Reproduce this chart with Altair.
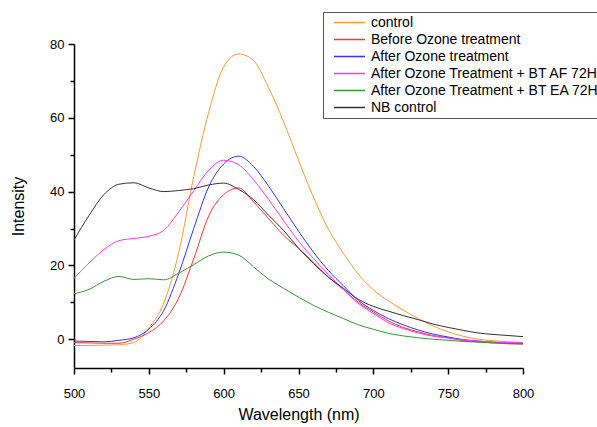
import altair as alt
import pandas as pd

wavelength = list(range(500, 801, 10))

control = [-1.7, -1.7, -1.6, -1.5, -0.9, 3.0, 9.8, 23.5, 44.0, 61.5, 73.8, 77.3, 75.5, 68.2, 59.0,
           48.5, 38.5, 29.8, 23.3, 17.6, 13.4, 10.4, 7.9, 5.6, 3.6, 2.0, 0.8, 0.0, -0.4, -0.7, -0.9]
before_ozone = [-0.9, -1.0, -1.1, -1.1, 0.0, 1.8, 5.0, 11.2, 21.8, 33.4, 39.2, 41.0, 37.2, 32.7, 28.2,
                24.6, 20.9, 16.8, 13.5, 10.0, 7.4, 5.0, 3.2, 2.0, 1.0, 0.4, -0.4, -0.7, -1.0, -1.2, -1.3]
after_ozone = [-0.5, -0.6, -0.7, -0.3, 0.4, 2.7, 7.8, 17.8, 30.0, 41.3, 47.5, 49.6, 46.8, 41.5, 35.4,
               29.3, 23.6, 18.6, 14.5, 10.5, 7.8, 5.6, 3.9, 2.5, 1.4, 0.6, -0.1, -0.5, -0.8, -1.0, -1.1]
after_bt_af = [16.5, 20.6, 24.3, 26.7, 27.3, 27.9, 29.5, 34.5, 40.2, 45.8, 48.5, 47.3, 43.2, 37.9, 32.2,
               26.6, 21.9, 17.5, 13.5, 9.7, 7.0, 4.5, 2.9, 1.7, 0.8, 0.3, -0.2, -0.5, -0.8, -0.9, -1.0]
after_bt_ea = [12.3, 13.5, 15.7, 17.0, 16.2, 16.4, 16.1, 17.9, 20.2, 22.6, 23.6, 22.8, 19.6, 16.3, 13.8,
               11.4, 9.2, 7.3, 5.6, 3.9, 2.7, 1.6, 0.9, 0.4, 0.0, -0.3, -0.6, -0.8, -1.0, -1.2, -1.3]
nb_control = [26.9, 33.5, 39.2, 42.0, 42.4, 41.0, 40.0, 40.3, 40.8, 41.8, 42.3, 40.6, 37.8, 33.6, 29.5,
              24.7, 20.5, 16.8, 13.8, 10.8, 8.9, 7.6, 6.4, 5.3, 4.1, 3.2, 2.4, 1.7, 1.3, 1.0, 0.7]

series_names = [
    "control",
    "Before Ozone treatment",
    "After Ozone treatment",
    "After Ozone Treatment + BT AF 72H",
    "After Ozone Treatment + BT EA 72H",
    "NB control",
]
series_colors = ["#FF9933", "#FF3333", "#3333FF", "#FF33FF", "#339933", "#333333"]
series_values = [control, before_ozone, after_ozone, after_bt_af, after_bt_ea, nb_control]

x_ticks = list(range(500, 801, 25))
y_ticks = list(range(0, 81, 10))

rows = []
for name, vals in zip(series_names, series_values):
    for w, v in zip(wavelength, vals):
        rows.append({"wl": w, "val": v, "series": name})
df = pd.DataFrame(rows)

FONT = "Liberation Sans"

chart = alt.Chart(df).mark_line(strokeWidth=1, interpolate="monotone", clip=True).encode(
    x=alt.X(
        "wl:Q",
        scale=alt.Scale(domain=[500, 800], nice=False, zero=False),
        axis=alt.Axis(
            title="Wavelength (nm)",
            values=x_ticks,
            labelExpr="datum.value % 50 === 0 ? datum.label : ''",
            grid=False,
            labelFlush=False,
            labelFont=FONT, labelFontSize=13, labelColor="black", labelPadding=13,
            titleFont=FONT, titleFontSize=16, titleFontWeight="normal", titleColor="black", titlePadding=6,
            domainColor="black", domainWidth=1.5,
            tickColor="black", tickWidth=1.5,
            tickSize={"condition": {"test": "datum.value % 50 === 0", "value": 6}, "value": 4},
        ),
    ),
    y=alt.Y(
        "val:Q",
        scale=alt.Scale(domain=[-7.8, 80], nice=False, zero=False),
        axis=alt.Axis(
            title="Intensity",
            values=y_ticks,
            labelExpr="datum.value % 20 === 0 ? datum.label : ''",
            grid=False,
            labelFlush=False,
            labelFont=FONT, labelFontSize=13, labelColor="black", labelPadding=4,
            titleFont=FONT, titleFontSize=16, titleFontWeight="normal", titleColor="black", titlePadding=23,
            domainColor="black", domainWidth=1.5,
            tickColor="black", tickWidth=1.5,
            tickSize={"condition": {"test": "datum.value % 20 === 0", "value": 6}, "value": 4},
        ),
    ),
    color=alt.Color(
        "series:N",
        scale=alt.Scale(domain=series_names, range=series_colors),
        sort=series_names,
        legend=alt.Legend(
            title=None,
            orient="none",
            legendX=249,
            legendY=-32,
            symbolType="stroke",
            symbolSize=961,
            symbolStrokeWidth=1.5,
            clipHeight=17,
            labelFont=FONT,
            labelFontSize=14,
            labelColor="black",
            labelOffset=5,
            labelLimit=400,
            padding=2,
            symbolOffset=8,
            strokeColor="#555555",
            fillColor="white",
            rowPadding=0,
        ),
    ),
).properties(
    width=449,
    height=324,
    autosize=alt.AutoSizeParams(type="none"),
    padding={"left": 74, "top": 44, "right": 74, "bottom": 59},
).configure_view(stroke=None)

chart.save("out.html", embed_options={"renderer": "svg", "actions": False})
